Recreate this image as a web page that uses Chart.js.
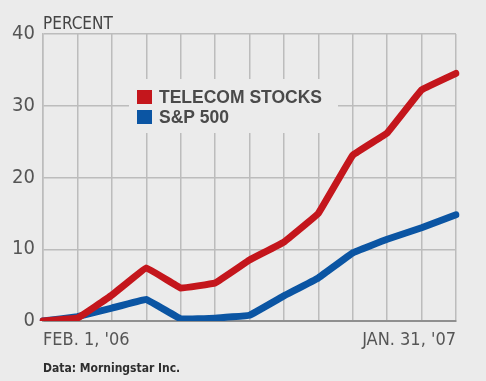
<!DOCTYPE html>
<html>
<head>
<meta charset="utf-8">
<script src="https://cdn.jsdelivr.net/npm/chart.js@4.4.1/dist/chart.umd.min.js"></script>
<style>
  html, body { margin: 0; padding: 0; background: #ebebeb; }
  #wrap { position: relative; width: 486px; height: 381px; }
  canvas { display: block; }
</style>
</head>
<body>
<div id="wrap"><canvas id="c" width="486" height="381"></canvas></div>
<script>
// Month-end points, Feb 1 2006 through Jan 31 2007
const months = ['Feb 06', 'Mar 06', 'Apr 06', 'May 06', 'Jun 06', 'Jul 06', 'Aug 06',
                'Sep 06', 'Oct 06', 'Nov 06', 'Dec 06', 'Jan 07', 'Jan 31 07'];
// Cumulative return, percent
const telecom = [0, 0.4, 3.6, 7.4, 4.6, 5.3, 8.5, 11, 15, 23.1, 26.2, 32.2, 34.5];
const sp500   = [0, 0.6, 1.8, 3.0, 0.3, 0.4, 0.8, 3.5, 6, 9.5, 11.4, 13.0, 14.8];
const xTickLabels = ["FEB. 1, '06", "JAN. 31, '07"];
const yTicks = [0, 10, 20, 30, 40];
const seriesNames = ['TELECOM STOCKS', 'S&P 500'];
const seriesColors = ['#c4161c', '#0b55a3'];

const narrow = '"Liberation Sans Narrow", "DejaVu Sans Condensed", "Liberation Sans", Arial, sans-serif';
const BG = '#ebebeb';

const overlay = {
  id: 'overlay',
  afterDatasetsDraw(chart) {
    const ctx = chart.ctx;
    const x0 = chart.chartArea.left;
    ctx.save();
    // unit label above the plot
    ctx.fillStyle = '#444';
    ctx.font = '17px ' + narrow;
    ctx.textBaseline = 'alphabetic';
    ctx.textAlign = 'left';
    ctx.fillText('PERCENT', x0, 29);

    // key box with its own background over the grid
    ctx.fillStyle = BG;
    ctx.fillRect(129, 79, 209, 54);
    ctx.font = 'bold 17.5px "Liberation Sans", Arial, sans-serif';
    ctx.textBaseline = 'middle';
    seriesNames.forEach((name, i) => {
      const cy = 97 + i * 20;
      ctx.fillStyle = seriesColors[i];
      ctx.fillRect(137, cy - 7, 15, 14);
      ctx.fillStyle = '#4a4a4a';
      ctx.fillText(name, 159, cy + 1);
    });

    // source line
    ctx.fillStyle = '#2e2e2e';
    ctx.font = 'bold 12px ' + narrow;
    ctx.textBaseline = 'alphabetic';
    ctx.fillText('Data: Morningstar Inc.', x0, 372);
    ctx.restore();
  }
};

new Chart(document.getElementById('c'), {
  type: 'line',
  data: {
    labels: months,
    datasets: [
      { label: seriesNames[0], data: telecom, borderColor: seriesColors[0] },
      { label: seriesNames[1], data: sp500, borderColor: seriesColors[1] }
    ].map(d => Object.assign(d, {
      borderWidth: 7, pointRadius: 0, tension: 0.05,
      borderCapStyle: 'round', borderJoinStyle: 'round', fill: false
    }))
  },
  options: {
    responsive: false,
    animation: false,
    layout: { padding: { top: 34, right: 30, bottom: 0, left: 0 } },
    plugins: { legend: { display: false }, tooltip: { enabled: false } },
    scales: {
      x: {
        offset: false,
        grid: { color: '#bcbcbc', lineWidth: 1.5, drawTicks: false },
        border: { color: '#8f8f8f', width: 2 },
        afterFit(scale) { scale.height = 60; },
        ticks: {
          autoSkip: false, maxRotation: 0, align: 'inner', padding: 9,
          color: '#555', font: { family: narrow, size: 18 },
          callback: (v, i, arr) => i === 0 ? xTickLabels[0] : (i === arr.length - 1 ? xTickLabels[1] : '')
        }
      },
      y: {
        min: yTicks[0], max: yTicks[yTicks.length - 1],
        afterFit(scale) { scale.width = 43; },
        afterBuildTicks(scale) { scale.ticks = yTicks.map(v => ({ value: v })); },
        grid: { color: '#bcbcbc', lineWidth: 1.5, drawTicks: false },
        border: { color: '#bcbcbc', width: 1.5 },
        ticks: { padding: 8, color: '#555', font: { family: narrow, size: 20 } }
      }
    }
  },
  plugins: [overlay]
});
</script>
</body>
</html>
